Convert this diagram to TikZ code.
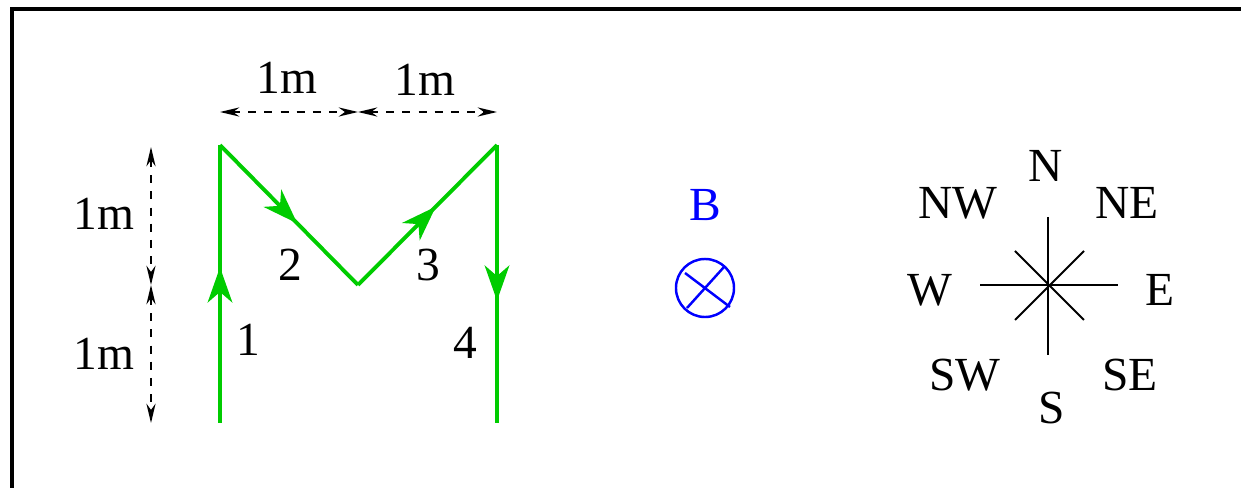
\documentclass[tikz,border=0pt]{standalone}
\usepackage{fontspec}
\setmainfont{Liberation Serif}
\newfontfamily\labelfont{Liberation Serif}
\usetikzlibrary{arrows.meta,decorations.markings}
\definecolor{pathgreen}{RGB}{0,204,0}

\begin{document}
\begin{tikzpicture}[x=0.01cm,y=-0.01cm,every node/.style={font=\labelfont\fontsize{13.5}{16}\selectfont,inner sep=0pt},
  loop/.style={draw=pathgreen,line width=1.1pt,postaction={decorate},
    decoration={markings,mark=at position 0.56 with {\arrow{Stealth[length=10pt,width=7pt,inset=3pt]}}}},
  dim/.style={line width=.5pt,dash pattern=on 2.3pt off 2.3pt,{Stealth[length=5.5pt,width=2.6pt]}-{Stealth[length=5.5pt,width=2.6pt]}},
  compass/.style={line width=.6pt}]
\useasboundingbox (0,0) rectangle (1241,488);
\clip (0,0) rectangle (1241,488);
\draw[line width=1pt] (1260,9) -- (12,9) -- (12,510);
% the M-shaped loop
\coordinate (p0) at (220,423);
\coordinate (p1) at (220,145);
\coordinate (p2) at (358,285);
\coordinate (p3) at (497,145);
\coordinate (p4) at (497,423);
\draw[loop] (p0)--(p1);
\draw[loop] (p1)--(p2);
\draw[loop] (p2)--(p3);
\draw[loop] (p3)--(p4);
\node (n1) at (248,340) {1};
\node (n2) at (290,265) {2};
\node (n3) at (428,265) {3};
\node (n4) at (465,343) {4};
% dimensions
\coordinate (h0) at (220,112);
\coordinate (h1) at (358,112);
\coordinate (h2) at (497,112);
\draw[dim] (h0)--(h1);
\draw[dim] (h1)--(h2);
\node (dh1) at (287,78) {1m};
\node (dh2) at (425,80) {1m};
\coordinate (v0) at (151,147);
\coordinate (v1) at (151,285);
\coordinate (v2) at (151,423);
\draw[dim] (v0)--(v1);
\draw[dim] (v1)--(v2);
\node (dv1) at (104,214) {1m};
\node (dv2) at (104,354) {1m};
% field into the page
\node[text=blue] (bl) at (705,205) {B};
\node[draw=blue,line width=.7pt,circle,minimum size=0.58cm] (bfield) at (705,288) {};
\draw[blue,line width=.7pt] (685,273)--(730,307);
\draw[blue,line width=.7pt] (687,308)--(724,267);
% compass
\coordinate (c) at (1048,285);
\draw[compass] (1048,217)--(1048,355);
\draw[compass] (980,285)--(1118,285);
\draw[compass] (1015,251)--(1084,320);
\draw[compass] (1084,251)--(1015,320);
\node (cN) at (1046,166) {N};
\node (cNE) at (1127,203) {NE};
\node (cE) at (1160,290) {E};
\node (cSE) at (1130,375) {SE};
\node (cS) at (1052,408) {S};
\node (cSW) at (965,375) {SW};
\node (cW) at (930,290) {W};
\node (cNW) at (958,203) {NW};
\end{tikzpicture}
\end{document}
